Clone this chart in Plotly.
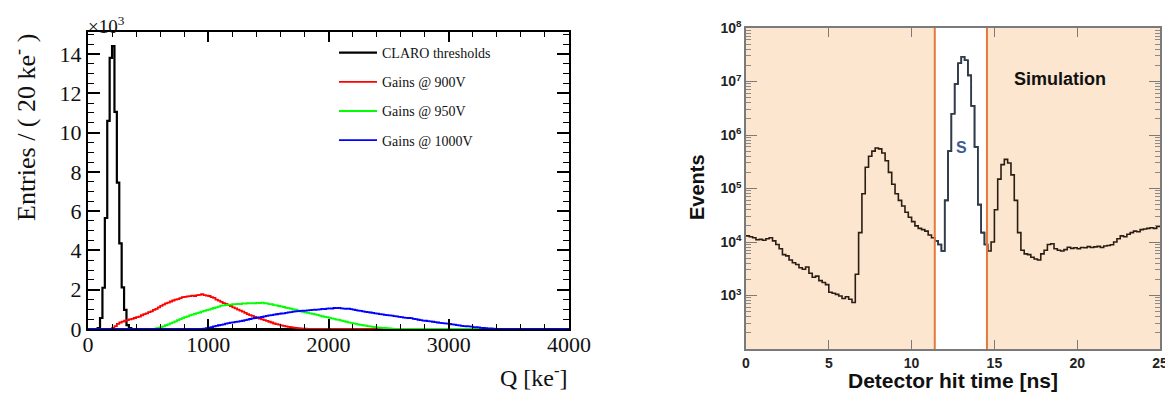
import numpy as np
import plotly.graph_objects as go

# ---------------- Left panel data: entries per 20 ke bin, in units of 10^3 ----------------
Q_BIN = 20
Q_MAX = 4000
claro_start = 80
claro_thresholds = [0.05, 0.56, 2.1, 5.65, 10.6, 13.8, 14.4, 11.05, 7.45, 4.36, 2.12, 0.97, 0.2, 0.05]

gain900_start = 180
gain900 = [0.00, 0.06, 0.15, 0.26, 0.33, 0.38, 0.42, 0.45, 0.49, 0.52,
           0.56, 0.60, 0.63, 0.70, 0.76, 0.80, 0.86, 0.90, 0.97, 1.02,
           1.10, 1.18, 1.24, 1.30, 1.34, 1.40, 1.45, 1.50, 1.52, 1.57,
           1.62, 1.64, 1.66, 1.67, 1.70, 1.68, 1.72, 1.74, 1.78, 1.72,
           1.70, 1.68, 1.62, 1.58, 1.50, 1.44, 1.38, 1.32, 1.28, 1.22,
           1.17, 1.10, 1.05, 0.99, 0.94, 0.88, 0.82, 0.76, 0.71, 0.67,
           0.62, 0.58, 0.53, 0.49, 0.45, 0.41, 0.37, 0.33, 0.28, 0.25,
           0.22, 0.18, 0.16, 0.13, 0.11, 0.09, 0.07, 0.06, 0.04, 0.03,
           0.02, 0.02, 0.01, 0.01, 0.00]

gain950_start = 560
gain950 = [0.03, 0.05, 0.09, 0.13, 0.19, 0.24, 0.29, 0.34, 0.39, 0.45,
           0.50, 0.55, 0.60, 0.64, 0.69, 0.73, 0.77, 0.81, 0.84, 0.88,
           0.92, 0.96, 0.99, 1.03, 1.07, 1.10, 1.14, 1.19, 1.20, 1.22,
           1.24, 1.24, 1.26, 1.27, 1.28, 1.27, 1.30, 1.29, 1.31, 1.30,
           1.32, 1.31, 1.33, 1.32, 1.34, 1.31, 1.30, 1.27, 1.26, 1.22,
           1.20, 1.17, 1.15, 1.12, 1.08, 1.06, 1.03, 1.00, 0.98, 0.94,
           0.90, 0.87, 0.85, 0.82, 0.80, 0.77, 0.74, 0.72, 0.68, 0.65,
           0.62, 0.60, 0.57, 0.54, 0.52, 0.48, 0.46, 0.43, 0.40, 0.37,
           0.34, 0.31, 0.29, 0.26, 0.23, 0.21, 0.19, 0.17, 0.15, 0.13,
           0.11, 0.10, 0.08, 0.07, 0.06, 0.05, 0.04, 0.03, 0.02, 0.01]

gain1000_start = 940
gain1000 = [0.01, 0.02, 0.04, 0.07, 0.10, 0.13, 0.16, 0.19, 0.21, 0.24,
            0.27, 0.30, 0.32, 0.34, 0.36, 0.38, 0.40, 0.42, 0.45, 0.48,
            0.51, 0.54, 0.56, 0.58, 0.59, 0.61, 0.64, 0.67, 0.69, 0.71,
            0.73, 0.75, 0.77, 0.79, 0.80, 0.82, 0.85, 0.86, 0.88, 0.90,
            0.91, 0.92, 0.93, 0.94, 0.95, 0.96, 0.97, 0.98, 0.99, 1.00,
            1.02, 1.01, 1.04, 1.05, 1.04, 1.07, 1.06, 1.08, 1.05, 1.04,
            1.03, 1.04, 1.01, 0.99, 0.96, 0.94, 0.92, 0.90, 0.87, 0.86,
            0.84, 0.82, 0.80, 0.78, 0.76, 0.74, 0.72, 0.71, 0.69, 0.68,
            0.66, 0.64, 0.62, 0.60, 0.58, 0.57, 0.56, 0.55, 0.52, 0.50,
            0.47, 0.45, 0.43, 0.42, 0.40, 0.39, 0.37, 0.35, 0.33, 0.31,
            0.30, 0.29, 0.27, 0.26, 0.24, 0.22, 0.20, 0.18, 0.16, 0.15,
            0.14, 0.13, 0.12, 0.10, 0.09, 0.08, 0.06, 0.05, 0.04, 0.03,
            0.03, 0.02, 0.01, 0.01]

left_series = [
    ("CLARO thresholds", claro_start, claro_thresholds, "#000000", 2.2),
    ("Gains @ 900V", gain900_start, gain900, "#FF0000", 1.8),
    ("Gains @ 950V", gain950_start, gain950, "#00FF00", 1.8),
    ("Gains @ 1000V", gain1000_start, gain1000, "#0000FF", 1.8),
]
x_ticks_left = [0, 1000, 2000, 3000, 4000]
y_ticks_left = [0, 2, 4, 6, 8, 10, 12, 14]

# ---------------- Right panel data: events per 0.2 ns bin ----------------
T_BIN = 0.2
hit_time_events = [
    1.3e4, 1.25e4, 1.2e4, 1.1e4, 1.12e4, 1.08e4, 1.15e4, 1.2e4, 1.05e4, 9.0e3,
    7.5e3, 5.8e3, 5.5e3, 4.6e3, 4.1e3, 3.8e3, 3.3e3, 3.1e3, 3.4e3, 2.6e3,
    2.2e3, 2.3e3, 1.9e3, 1.75e3, 1.6e3, 1.15e3, 1.1e3, 1.05e3, 9.8e2, 8.8e2,
    9.5e2, 8.5e2, 7.4e2, 2.5e3, 1.5e4, 8.0e4, 2.5e5, 4.0e5, 5.0e5, 5.7e5,
    5.5e5, 4.6e5, 3.3e5, 2.0e5, 1.2e5, 8.0e4, 6.0e4, 4.7e4, 3.6e4, 2.9e4,
    2.4e4, 2.0e4, 1.8e4, 1.7e4, 1.6e4, 1.35e4, 1.2e4, 1.05e4, 9.0e3, 6.8e3,
    6.0e4, 5.0e5, 2.5e6, 9.0e6, 2.2e7, 2.9e7, 2.5e7, 1.3e7, 3.5e6, 6.0e5,
    5.0e4, 1.5e4, 9.0e3, 6.8e3, 1.0e4, 4.0e4, 1.5e5, 2.8e5, 3.5e5, 3.0e5,
    1.8e5, 6.0e4, 1.5e4, 7.0e3, 6.0e3, 5.8e3, 5.2e3, 4.8e3, 4.6e3, 6.0e3,
    7.0e3, 9.0e3, 9.3e3, 7.5e3, 7.0e3, 6.8e3, 7.2e3, 8.0e3, 7.6e3, 7.8e3,
    7.5e3, 7.9e3, 7.8e3, 8.2e3, 7.9e3, 8.1e3, 8.3e3, 7.9e3, 8.4e3, 8.6e3,
    8.9e3, 1.0e4, 1.15e4, 1.3e4, 1.25e4, 1.4e4, 1.5e4, 1.6e4, 1.55e4, 1.7e4,
    1.75e4, 1.8e4, 1.85e4, 1.8e4, 1.95e4,
]
signal_window = [11.4, 14.55]
x_ticks_right = [0, 5, 10, 15, 20, 25]
log_decades = [3, 4, 5, 6, 7, 8]

# page is 1173x396; the html body has an 8px margin, so the figure is sized to fit the rest
PAGE_OFF = 8
W, H = 1173 - PAGE_OFF, 396 - PAGE_OFF


def px_x(p):
    return (p - PAGE_OFF) / W


def px_y(p):
    return 1 - (p - PAGE_OFF) / H


def hist_xy(start, vals):
    n = int(Q_MAX / Q_BIN)
    full = np.zeros(n)
    i0 = int(round(start / Q_BIN))
    full[i0:i0 + len(vals)] = vals
    edges = np.arange(n + 1) * Q_BIN
    y = np.append(full, full[-1])
    return edges, y


fig = go.Figure()

for i, (name, start, vals, color, lw) in enumerate(left_series):
    x, y = hist_xy(start, vals)
    fig.add_trace(go.Scatter(
        x=x, y=y, mode="lines", line=dict(color=color, width=lw, shape="hv"),
        name=name, legendgroup=f"g{i}", xaxis="x", yaxis="y",
    ))

# right panel histogram
ev = np.array(hit_time_events, dtype=float)
t_edges = np.arange(len(ev) + 1) * T_BIN
t_y = np.append(ev, ev[-1])
fig.add_trace(go.Scatter(
    x=t_edges, y=t_y, mode="lines", line=dict(color="#2a1d14", width=1.6, shape="hv"),
    showlegend=False, xaxis="x2", yaxis="y2",
))
centers = (t_edges[:-1] + t_edges[1:]) / 2
inside = np.where((centers > signal_window[0]) & (centers < signal_window[1]))[0]
i0, i1 = inside[0], inside[-1]
fig.add_trace(go.Scatter(
    x=t_edges[i0:i1 + 2], y=np.append(ev[i0:i1 + 1], ev[i1]), mode="lines",
    line=dict(color="#2c3d52", width=1.6, shape="hv"),
    showlegend=False, xaxis="x2", yaxis="y2",
))

serif = "Liberation Serif, Times New Roman, serif"
sans = "Liberation Sans, Arial, Helvetica, sans-serif"

minor_log = [k * 10 ** n for n in range(2, 8) for k in range(2, 10)]

fig.update_layout(
    template="none",
    width=W, height=H,
    margin=dict(l=0, r=0, t=0, b=0, pad=0, autoexpand=False),
    paper_bgcolor="white",
    plot_bgcolor="rgba(0,0,0,0)",
    showlegend=True,
    legend=dict(
        x=px_x(334), y=px_y(37), xanchor="left", yanchor="top",
        bgcolor="rgba(0,0,0,0)", borderwidth=0, itemwidth=38,
        font=dict(family=serif, size=14, color="#111"),
        tracegroupgap=8, traceorder="grouped",
    ),
    xaxis=dict(
        domain=[px_x(88), px_x(569)], range=[0, Q_MAX], anchor="y", automargin=False,
        showline=True, linecolor="black", linewidth=2, mirror="allticks",
        ticks="inside", ticklen=10, tickwidth=1.5, tickcolor="black",
        tickmode="array", tickvals=x_ticks_left, ticklabelstandoff=-5,
        minor=dict(ticks="inside", ticklen=5, tickwidth=1.2, tickcolor="black", dtick=200, tick0=0),
        tickfont=dict(family=serif, size=22, color="#111"),
        showgrid=False, zeroline=False,
    ),
    yaxis=dict(
        domain=[px_y(329), px_y(32)], range=[0, 15.12], anchor="x", automargin=False,
        showline=True, linecolor="black", linewidth=2, mirror="allticks",
        ticks="inside", ticklen=12, tickwidth=1.5, tickcolor="black",
        tickmode="array", tickvals=y_ticks_left,
        minor=dict(ticks="inside", ticklen=6, tickwidth=1.2, tickcolor="black", dtick=0.5, tick0=0),
        tickfont=dict(family=serif, size=22, color="#111"),
        showgrid=False, zeroline=False,
    ),
    xaxis2=dict(
        domain=[px_x(746), px_x(1160)], range=[0, 25], anchor="y2", automargin=False,
        showline=True, linecolor="#7a7a7a", linewidth=1.5, mirror="ticks",
        ticks="inside", ticklen=9, tickwidth=1, tickcolor="#7a7a7a",
        tickmode="array", tickvals=x_ticks_right,
        ticktext=[f"<b>{v}</b>" for v in x_ticks_right],
        tickfont=dict(family=sans, size=14, color="#222"),
        showgrid=False, zeroline=False,
    ),
    yaxis2=dict(
        domain=[px_y(349), px_y(28)], range=[2, 8], type="log", anchor="x2", automargin=False,
        showline=True, linecolor="#7a7a7a", linewidth=1.5, mirror="allticks",
        ticks="inside", ticklen=11, tickwidth=1, tickcolor="#7a7a7a",
        tickmode="array", tickvals=[10 ** d for d in log_decades],
        ticktext=[f"<b>10<sup>{d}</sup></b>" for d in log_decades],
        minor=dict(ticks="inside", ticklen=5, tickwidth=0.8, tickcolor="#8a8a8a",
                   tickmode="array", tickvals=minor_log),
        tickfont=dict(family=sans, size=14, color="#222"),
        showgrid=False, zeroline=False,
    ),
)

# right panel backgrounds and window lines
fig.add_shape(type="rect", xref="x2", yref="y2 domain", x0=0, x1=25, y0=0, y1=1,
              fillcolor="#FDE6CF", line_width=0, layer="below")
fig.add_shape(type="rect", xref="x2", yref="y2 domain", x0=signal_window[0], x1=signal_window[1],
              y0=0, y1=1, fillcolor="white", line_width=0, layer="below")
for xv in signal_window:
    fig.add_shape(type="line", xref="x2", yref="y2 domain", x0=xv, x1=xv, y0=0, y1=1,
                  line=dict(color="#E5793A", width=2), layer="above")

annotations = [
    dict(text="×10<sup>3</sup>", x=px_x(86), y=px_y(25), xref="paper", yref="paper",
         xanchor="left", yanchor="middle", showarrow=False,
         font=dict(family=serif, size=19, color="#111")),
    dict(text="Entries / ( 20 ke<sup>-</sup> )", x=px_x(24), y=px_y(128), xref="paper", yref="paper",
         xanchor="center", yanchor="middle", textangle=-90, showarrow=False,
         font=dict(family=serif, size=26, color="#111")),
    dict(text="Q [ke<sup>-</sup>]", x=px_x(570), y=px_y(376), xref="paper", yref="paper",
         xanchor="right", yanchor="middle", showarrow=False,
         font=dict(family=serif, size=24, color="#111")),
    dict(text="<b>Detector hit time [ns]</b>", x=px_x(953), y=px_y(380), xref="paper", yref="paper",
         xanchor="center", yanchor="middle", showarrow=False,
         font=dict(family=sans, size=21, color="#111")),
    dict(text="<b>Events</b>", x=px_x(697), y=px_y(187), xref="paper", yref="paper",
         xanchor="center", yanchor="middle", textangle=-90, showarrow=False,
         font=dict(family=sans, size=20, color="#111")),
    dict(text="<b>Simulation</b>", x=px_x(1060), y=px_y(79), xref="paper", yref="paper",
         xanchor="center", yanchor="middle", showarrow=False,
         font=dict(family=sans, size=18, color="#111")),
    dict(text="<b>S</b>", x=px_x(961), y=px_y(147), xref="paper", yref="paper",
         xanchor="center", yanchor="middle", showarrow=False,
         font=dict(family=sans, size=16, color="#3d5c98")),
]
fig.update_layout(annotations=annotations)

fig.write_html("out.html")
